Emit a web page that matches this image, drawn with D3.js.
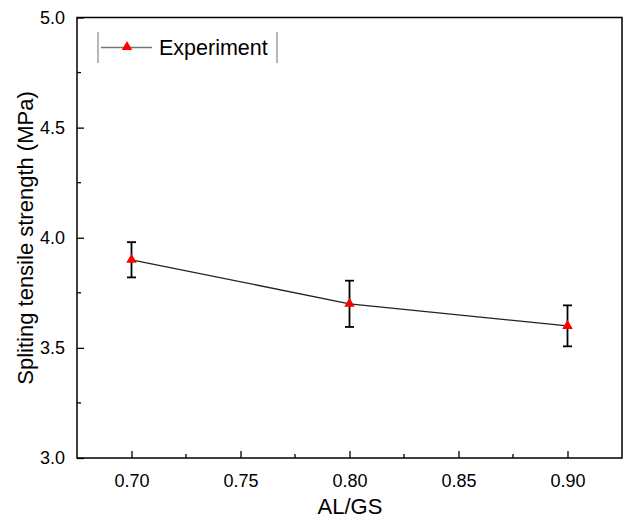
<!DOCTYPE html>
<html><head><meta charset="utf-8">
<script src="https://cdn.jsdelivr.net/npm/d3@7"></script>
<style>body{margin:0;background:#fff}svg{display:block}text{font-family:"Liberation Sans",Arial,sans-serif}</style>
</head><body><svg id="c" width="623" height="520"></svg>
<script>
const ratios = [0.70, 0.80, 0.90];
const strength = [3.90, 3.70, 3.60];
const errors = [0.08, 0.105, 0.093];
const xTicks = [0.70, 0.75, 0.80, 0.85, 0.90];
const yTicks = [3.0, 3.5, 4.0, 4.5, 5.0];
const seriesName = "Experiment";

const svg = d3.select("#c");
const L = 77, R = 622, T = 17.5, B = 458;
const x = d3.scaleLinear().domain([0.675, 0.925]).range([L, R]);
const y = d3.scaleLinear().domain([3.0, 5.0]).range([B, T]);

// frame
svg.append("rect").attr("x", L).attr("y", T).attr("width", R - L).attr("height", B - T)
  .attr("fill", "none").attr("stroke", "#000").attr("stroke-width", 1.5);

// axes with inward ticks
const xAxis = d3.axisBottom(x).tickValues(xTicks).tickFormat(d3.format(".2f")).tickSizeInner(-7).tickSizeOuter(0).tickPadding(16);
const gx = svg.append("g").attr("transform", `translate(0,${B})`).call(xAxis);
const yAxis = d3.axisLeft(y).tickValues(yTicks).tickFormat(d3.format(".1f")).tickSizeInner(-7).tickSizeOuter(0).tickPadding(12);
const gy = svg.append("g").attr("transform", `translate(${L},0)`).call(yAxis);
[gx, gy].forEach(g => {
  g.select(".domain").remove();
  g.selectAll(".tick line").attr("stroke", "#000").attr("stroke-width", 1.3);
  g.selectAll(".tick text").attr("fill", "#000").style("font-size", "18px").style("font-family", '"Liberation Sans",Arial,sans-serif');
});
// minor ticks
const xMinor = d3.range(xTicks.length - 1).map(i => (xTicks[i] + xTicks[i + 1]) / 2);
svg.append("g").selectAll("line").data(xMinor).join("line")
  .attr("x1", d => x(d)).attr("x2", d => x(d)).attr("y1", B).attr("y2", B - 4)
  .attr("stroke", "#000").attr("stroke-width", 1.3);
const yMinor = d3.range(yTicks.length - 1).map(i => (yTicks[i] + yTicks[i + 1]) / 2);
svg.append("g").selectAll("line").data(yMinor).join("line")
  .attr("y1", d => y(d)).attr("y2", d => y(d)).attr("x1", L).attr("x2", L + 4)
  .attr("stroke", "#000").attr("stroke-width", 1.3);

// axis titles
svg.append("text").attr("x", (L + R) / 2 + 0.5).attr("y", 514).attr("text-anchor", "middle")
  .style("font-size", "22px").text("AL/GS");
svg.append("text").attr("transform", "translate(33,238) rotate(-90)").attr("text-anchor", "middle")
  .style("font-size", "22px").text("Spliting tensile strength (MPa)");

// data
const data = ratios.map((r, i) => ({ r, v: strength[i], e: errors[i] }));
svg.append("path").datum(data)
  .attr("d", d3.line().x(d => x(d.r)).y(d => y(d.v)))
  .attr("fill", "none").attr("stroke", "#222").attr("stroke-width", 1.3);
const eb = svg.append("g").selectAll("g").data(data).join("g").attr("stroke", "#000").attr("stroke-width", 1.8);
eb.append("line").attr("x1", d => x(d.r)).attr("x2", d => x(d.r)).attr("y1", d => y(d.v + d.e)).attr("y2", d => y(d.v - d.e));
eb.append("line").attr("x1", d => x(d.r) - 4.5).attr("x2", d => x(d.r) + 4.5).attr("y1", d => y(d.v + d.e)).attr("y2", d => y(d.v + d.e));
eb.append("line").attr("x1", d => x(d.r) - 4.5).attr("x2", d => x(d.r) + 4.5).attr("y1", d => y(d.v - d.e)).attr("y2", d => y(d.v - d.e));
const tri = d3.symbol().type(d3.symbolTriangle).size(48);
svg.append("g").selectAll("path").data(data).join("path")
  .attr("d", tri).attr("transform", d => `translate(${x(d.r)},${y(d.v)})`).attr("fill", "#ff0000");

// legend
const lg = svg.append("g");
lg.append("line").attr("x1", 98).attr("x2", 98).attr("y1", 32).attr("y2", 63).attr("stroke", "#888").attr("stroke-width", 1.2);
lg.append("line").attr("x1", 277).attr("x2", 277).attr("y1", 32).attr("y2", 63).attr("stroke", "#888").attr("stroke-width", 1.2);
lg.append("line").attr("x1", 101).attr("x2", 152).attr("y1", 47.5).attr("y2", 47.5).attr("stroke", "#777").attr("stroke-width", 1.3);
lg.append("path").attr("d", tri).attr("transform", "translate(127,47)").attr("fill", "#ff0000");
lg.append("text").attr("x", 159).attr("y", 55).style("font-size", "21.5px").text(seriesName);
</script></body></html>
